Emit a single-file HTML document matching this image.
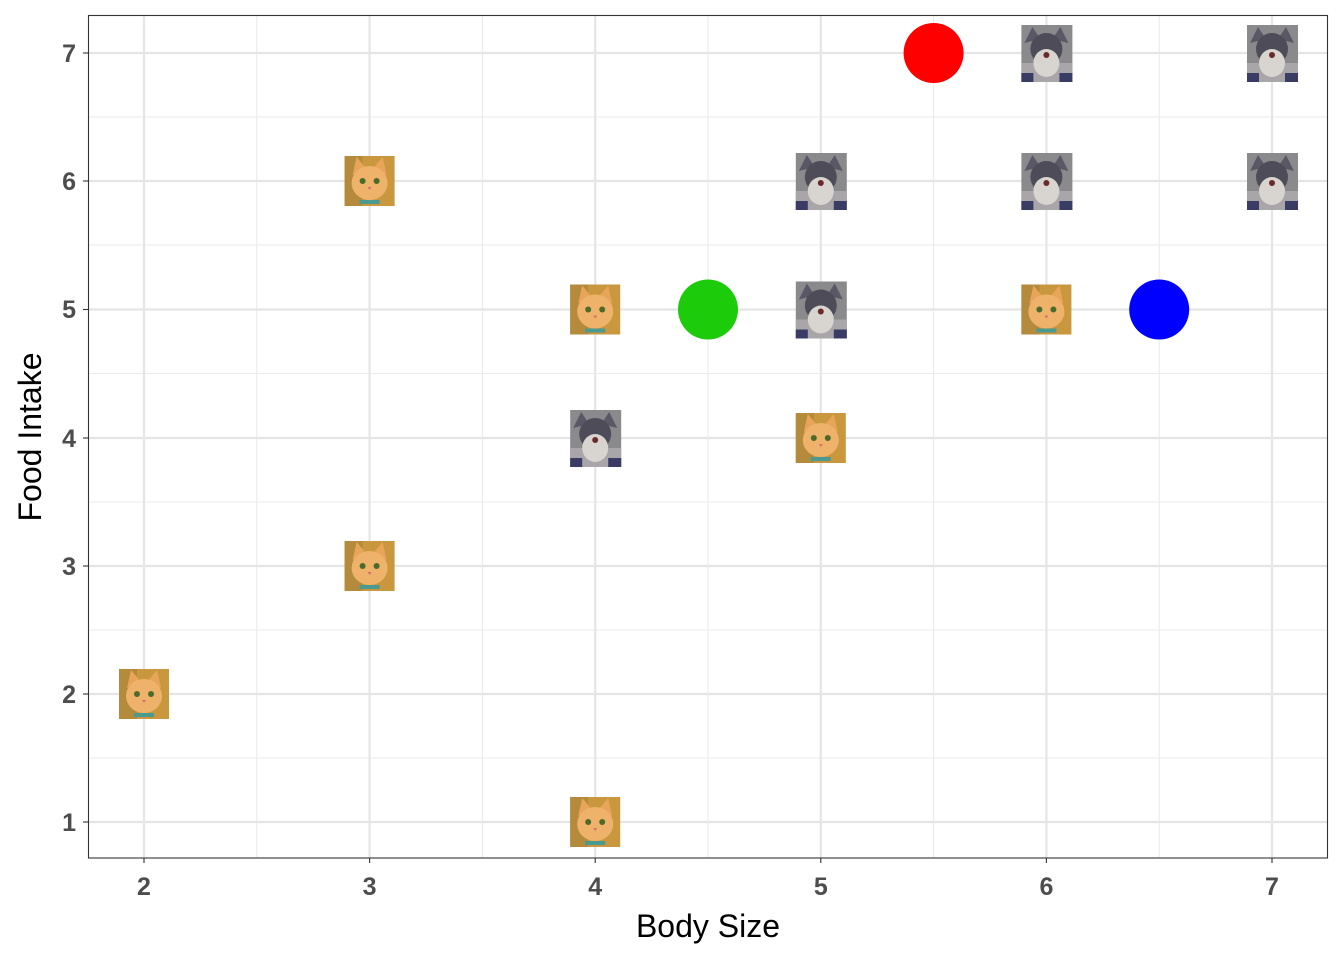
<!DOCTYPE html>
<html><head><style>body{margin:0;background:#fff}svg{display:block}</style></head><body>
<svg width="1344" height="960" xmlns="http://www.w3.org/2000/svg" font-family="Liberation Sans, sans-serif">
<defs>
<g id="cat">
<rect x="-25" y="-25" width="50" height="50" fill="#c9973e"/>
<rect x="-25" y="-25" width="18" height="50" fill="#b48a3c"/>
<polygon points="-17,-6 -13,-24 -3,-12" fill="#e8a55a"/>
<polygon points="17,-6 13,-24 3,-12" fill="#e8a55a"/>
<ellipse cx="0" cy="2" rx="18" ry="17" fill="#eeb26a"/>
<circle cx="-7" cy="0" r="3" fill="#4b6b2a"/><circle cx="7" cy="0" r="3" fill="#4b6b2a"/>
<polygon points="-2,6 2,6 0,9" fill="#d07070"/>
<rect x="-10" y="19" width="20" height="4" fill="#4a9a90"/>
</g>
<g id="dog">
<rect x="-25" y="-28" width="51" height="57" fill="#8a8a8c"/>
<rect x="-25" y="10" width="51" height="19" fill="#a8a6a8"/>
<polygon points="-22,-10 -14,-26 -6,-14" fill="#5a5866"/>
<polygon points="22,-10 14,-26 6,-14" fill="#5a5866"/>
<ellipse cx="0" cy="-4" rx="16" ry="16" fill="#4e4c58"/>
<ellipse cx="0" cy="10" rx="13" ry="14" fill="#d8d4d0"/>
<circle cx="0" cy="2" r="3" fill="#6a2a2a"/>
<rect x="-25" y="20" width="12" height="9" fill="#3a3c66"/>
<rect x="13" y="20" width="13" height="9" fill="#3a3c66"/>
</g>
</defs>
<rect x="88" y="15" width="1240" height="843" fill="#fff"/>
<g stroke="#ebebeb" stroke-width="1.1">
<line x1="88" x2="1328" y1="758" y2="758"/><line x1="88" x2="1328" y1="630" y2="630"/>
<line x1="88" x2="1328" y1="502" y2="502"/><line x1="88" x2="1328" y1="373.5" y2="373.5"/>
<line x1="88" x2="1328" y1="245" y2="245"/><line x1="88" x2="1328" y1="117" y2="117"/>
<line y1="15" y2="858" x1="256.8" x2="256.8"/><line y1="15" y2="858" x1="482.4" x2="482.4"/>
<line y1="15" y2="858" x1="708" x2="708"/><line y1="15" y2="858" x1="933.6" x2="933.6"/>
<line y1="15" y2="858" x1="1159.2" x2="1159.2"/>
</g>
<g stroke="#e5e5e5" stroke-width="2.2">
<line x1="88" x2="1328" y1="822" y2="822"/><line x1="88" x2="1328" y1="694" y2="694"/>
<line x1="88" x2="1328" y1="566" y2="566"/><line x1="88" x2="1328" y1="438" y2="438"/>
<line x1="88" x2="1328" y1="309.5" y2="309.5"/><line x1="88" x2="1328" y1="181" y2="181"/>
<line x1="88" x2="1328" y1="53" y2="53"/>
<line y1="15" y2="858" x1="144" x2="144"/><line y1="15" y2="858" x1="369.6" x2="369.6"/>
<line y1="15" y2="858" x1="595.2" x2="595.2"/><line y1="15" y2="858" x1="820.8" x2="820.8"/>
<line y1="15" y2="858" x1="1046.4" x2="1046.4"/><line y1="15" y2="858" x1="1272" x2="1272"/>
</g>
<use href="#cat" x="369.6" y="181"/><use href="#cat" x="595.2" y="309.5"/>
<use href="#cat" x="144" y="694"/><use href="#cat" x="369.6" y="566"/>
<use href="#cat" x="595.2" y="822"/><use href="#cat" x="820.8" y="438"/>
<use href="#cat" x="1046.4" y="309.5"/>
<use href="#dog" x="1046.4" y="53"/><use href="#dog" x="1272" y="53"/>
<use href="#dog" x="820.8" y="181"/><use href="#dog" x="1046.4" y="181"/>
<use href="#dog" x="1272" y="181"/><use href="#dog" x="820.8" y="309.5"/>
<use href="#dog" x="595.2" y="438"/>
<circle cx="933.6" cy="53" r="30" fill="#ff0000"/>
<circle cx="708" cy="309.5" r="30" fill="#1ccc0a"/>
<circle cx="1159.2" cy="309.5" r="30" fill="#0000ff"/>
<rect x="88.5" y="15.5" width="1239" height="842.5" fill="none" stroke="#333" stroke-width="1.1"/>
<g stroke="#333" stroke-width="1.1">
<line x1="83" x2="88" y1="822" y2="822"/><line x1="83" x2="88" y1="694" y2="694"/>
<line x1="83" x2="88" y1="566" y2="566"/><line x1="83" x2="88" y1="438" y2="438"/>
<line x1="83" x2="88" y1="309.5" y2="309.5"/><line x1="83" x2="88" y1="181" y2="181"/>
<line x1="83" x2="88" y1="53" y2="53"/>
<line y1="858" y2="863" x1="144" x2="144"/><line y1="858" y2="863" x1="369.6" x2="369.6"/>
<line y1="858" y2="863" x1="595.2" x2="595.2"/><line y1="858" y2="863" x1="820.8" x2="820.8"/>
<line y1="858" y2="863" x1="1046.4" x2="1046.4"/><line y1="858" y2="863" x1="1272" x2="1272"/>
</g>
<g font-size="25" font-weight="bold" fill="#4d4d4d" text-anchor="end">
<text x="76" y="831">1</text><text x="76" y="703">2</text><text x="76" y="575">3</text>
<text x="76" y="447">4</text><text x="76" y="318">5</text><text x="76" y="190">6</text><text x="76" y="62">7</text>
</g>
<g font-size="25" font-weight="bold" fill="#4d4d4d" text-anchor="middle">
<text x="144" y="895">2</text><text x="369.6" y="895">3</text><text x="595.2" y="895">4</text>
<text x="820.8" y="895">5</text><text x="1046.4" y="895">6</text><text x="1272" y="895">7</text>
</g>
<text x="708" y="937" font-size="32" text-anchor="middle" fill="#000">Body Size</text>
<text transform="translate(41,437) rotate(-90)" font-size="32" text-anchor="middle" fill="#000">Food Intake</text>
</svg>
</body></html>
